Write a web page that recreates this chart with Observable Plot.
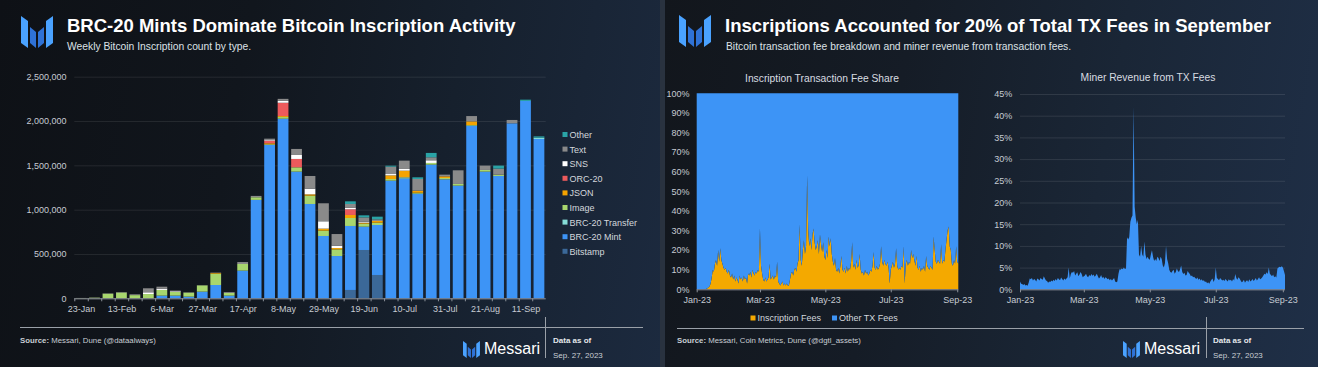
<!DOCTYPE html>
<html><head><meta charset="utf-8">
<script src="https://cdn.jsdelivr.net/npm/d3@7"></script>
<script src="https://cdn.jsdelivr.net/npm/@observablehq/plot@0.6"></script>
<style>
html,body{margin:0;padding:0;}
body{width:1318px;height:367px;position:relative;overflow:hidden;background:#29323f;font-family:"Liberation Sans",Arial,sans-serif;}
.panel{position:absolute;top:0;height:367px;}
#p1{left:0;width:660px;background:linear-gradient(100deg,#0e1116 0%,#11161d 35%,#16202d 65%,#1c2a3f 100%);}
#p2{left:665px;width:653px;background:linear-gradient(100deg,#12161c 0%,#151c26 35%,#1a2636 65%,#1f2f47 100%);}
.plot{position:absolute;}
#overlay{position:absolute;left:0;top:0;pointer-events:none;}
</style></head><body>
<div class="panel" id="p1"></div><div class="panel" id="p2"></div>
<div class="plot" id="c1" style="left:0px;top:60px"></div>
<div class="plot" id="c2" style="left:660px;top:65px"></div>
<div class="plot" id="c3" style="left:980px;top:65px"></div>
<svg id="overlay" width="1318" height="367"></svg>
<script>
// ---------- Chart 1 data: weekly inscriptions by type ----------
const weeks = ["23-Jan","30-Jan","6-Feb","13-Feb","20-Feb","27-Feb","6-Mar","13-Mar","20-Mar","27-Mar","3-Apr","10-Apr","17-Apr","24-Apr","1-May","8-May","15-May","22-May","29-May","5-Jun","12-Jun","19-Jun","26-Jun","3-Jul","10-Jul","17-Jul","24-Jul","31-Jul","7-Aug","14-Aug","21-Aug","28-Aug","4-Sep","11-Sep","18-Sep"];
const weekTickLabels = ["23-Jan","13-Feb","6-Mar","27-Mar","17-Apr","8-May","29-May","19-Jun","10-Jul","31-Jul","21-Aug","11-Sep"];
const countTicks = [0,500000,1000000,1500000,2000000,2500000];

const bitstamp =      [0,0,0,0,0,0,0,0,0,0,0,0,0,0,0,0,0,0,0,0,94000,545000,263000,0,0,0,0,0,0,0,0,0,0,0,0];
const brc20Mint =     [0,0,0,0,0,0,30000,30000,19000,75000,150000,30000,312000,1110000,1730000,2026000,1429000,1064000,703000,477000,722000,263000,564000,1327000,1350000,1180000,1508000,1342000,1271000,1947000,1429000,1380000,1974000,2226000,1797000];
const brc20Transfer = [0,0,0,0,0,0,0,0,0,0,0,0,0,0,0,0,0,0,0,0,0,0,0,0,15000,0,0,0,0,0,0,0,0,0,15000];
const image =         [3000,7000,52000,66000,36000,48000,64000,41000,45000,71000,128000,30000,75000,30000,8000,19000,49000,94000,60000,75000,90000,34000,26000,19000,0,11000,19000,15000,19000,8000,19000,15000,0,0,0];
const json =          [0,0,0,0,0,0,0,0,0,0,8000,0,0,0,11000,11000,0,15000,23000,15000,34000,11000,19000,41000,75000,23000,0,19000,0,41000,0,0,0,0,0];
const orc20 =         [0,0,0,0,0,0,0,0,0,0,0,0,0,0,30000,150000,94000,0,0,0,64000,0,0,0,0,0,0,0,0,0,0,0,0,0,0];
const sns =           [0,0,0,0,0,20000,15000,8000,0,0,0,2000,0,0,12000,22000,45000,64000,83000,26000,19000,11000,0,15000,19000,0,30000,0,0,0,0,0,0,0,0];
const text =          [1000,2000,4000,5000,9000,45000,22000,8000,4000,2000,4000,9000,22000,15000,10000,22000,68000,143000,203000,132000,41000,49000,19000,83000,94000,132000,34000,19000,154000,60000,49000,68000,38000,0,0];
const other =         [0,0,0,0,0,0,0,0,0,0,0,0,0,0,0,0,0,0,0,0,30000,23000,30000,11000,0,19000,49000,0,0,0,0,34000,0,15000,15000];

const seriesNames = ["Bitstamp","BRC-20 Mint","BRC-20 Transfer","Image","JSON","ORC-20","SNS","Text","Other"];
const seriesValues = [bitstamp,brc20Mint,brc20Transfer,image,json,orc20,sns,text,other];
const seriesColors = ["#3b6898","#3d94f6","#86dcd8","#a8d66e","#f5a300","#ec5a5c","#ffffff","#8a8a8a","#2aa3a6"];

// ---------- Chart 2/3 data: daily shares (%) starting 2023-01-01 ----------
const dailyStart = "2023-01-01";
const inscriptionFeeShare = [
0,0,0,0,0,0,0, 0,0,0.3,0.5,1,1.5,3, 6,10,9,13,15,12,20, 14,21,15,13,11,10,11,
9,8,10,7,6,8,5, 7,4,6,5,3,7,5, 6,4,7,5,6,3,8, 7,9,6,10,8,7,9,
8,10,9,31,12,8,5, 4,6,4,5,6,13,5, 6,7,5,7,6,14,4, 3,2,3,4,2,3,2,
3,2,2,5,8,9,7, 10,11,9,13,15,33,15, 12,20,25,18,22,58,30, 22,26,20,28,31,24,20,
22,25,18,28,23,19,24, 17,15,20,16,27,22,26, 18,14,12,16,10,9,11, 8,12,17,10,9,11,8,
12,9,11,10,14,24,11, 13,10,15,11,12,18,10, 8,9,7,10,8,9,7, 8,10,9,12,19,11,10,
12,10,11,13,22,14,12, 15,13,12,14,11,3,10, 12,14,11,13,21,12,10, 11,10,12,11,22,3,13,
15,12,14,13,20,16,18, 15,12,17,11,10,12,9, 11,10,12,9,17,12,11, 10,12,11,10,27,20,14,
13,15,14,13,23,13,15, 14,20,25,30,32,22,20, 13,12,15,13,22,14,13];
const minerRevenueShare = [
1.8,1.3,1.2,1.0,1.2,0.9,1.0, 0.8,1.5,2.5,2.3,2.6,2.0,2.4, 2.2,1.8,2.5,2.3,2.0,2.6,2.4, 2.2,3.0,2.5,2.0,1.9,1.5,1.8,
1.7,2.0,1.8,2.2,1.9,2.4,2.0, 2.6,2.3,2.1,2.7,2.4,2.0,2.5, 2.2,2.5,2.8,5.0,2.5,3.5,4.0, 3.8,4.2,3.2,3.6,3.9,3.0,3.4,
4.0,3.5,2.8,3.0,3.2,3.6,3.0, 2.8,3.3,3.0,3.5,3.1,3.4,2.9, 3.2,3.6,3.0,2.5,2.8,3.3,2.6, 2.9,2.4,2.8,2.6,2.3,2.5,2.1,
2.4,2.0,2.3,2.6,1.8,1.6,1.8, 3.5,4.6,4.5,4.8,4.6,5.0,4.7, 4.8,12.0,11.5,12.0,15.5,16.5,17.0, 42,19,16.5,15,16,8,7.5,
10,8,7.5,11,8,7,7.5, 7,6.8,8,9,7.5,6.5,7, 6.5,7.5,7.2,6.5,7.5,7.0,5.5, 5.0,6.0,10.0,7.0,6.0,4.5,4.0,
3.8,4.2,4.5,3.6,4.0,4.8,4.2, 4.0,4.6,5.5,4.0,3.5,3.8,3.2, 3.3,4.2,3.8,3.5,3.0,3.2,2.8, 2.9,2.6,2.4,2.7,2.2,2.5,2.0,
2.3,1.9,2.1,1.7,1.8,1.4,1.6, 1.3,1.8,2.2,2.5,1.7,2.3,5.0, 2.6,2.4,2.1,2.6,2.3,2.0,2.2, 1.9,2.4,2.1,1.8,2.3,2.0,2.2,
1.8,2.4,2.0,3.5,2.6,2.2,2.8, 2.5,2.0,1.6,1.8,2.2,1.5,1.9, 2.1,1.7,2.3,1.8,2.0,2.4,1.9, 2.2,2.6,2.0,2.4,2.8,2.3,2.5,
2.8,3.2,3.6,3.4,3.9,3.5,5.0, 3.6,3.3,3.0,3.4,2.8,3.0,2.7, 4.8,5.0,5.2,5.1,5.3,5.0,4.2, 3.3];
const monthTicks = ["2023-01-01","2023-03-01","2023-05-01","2023-07-01","2023-09-01"];
const feeShareTicks = [0,10,20,30,40,50,60,70,80,90,100];
const minerTicks = [0,5,10,15,20,25,30,35,40,45];
const feeTypes = ["Inscription Fees","Other TX Fees"];
const feeColors = ["#f4a900","#3d94f6"];

// ---------- styles ----------
const FONT = "Liberation Sans, Arial, sans-serif";
const axisColor = "#c6cbd2";
const baseStyle = {background:"transparent",color:axisColor,fontFamily:FONT,fontSize:"9px",overflow:"visible"};

// ---------- Chart 1 ----------
const rows1 = [];
seriesNames.forEach((s,k)=>weeks.forEach((w,i)=>rows1.push({week:w,type:s,value:seriesValues[k][i]})));
const W1=560,H1=260,mL1=74.3,mR1=14.3;
const step1=(W1-mL1-mR1)/weeks.length;
const chart1 = Plot.plot({
  width:W1,height:H1,marginLeft:mL1,marginRight:mR1,marginTop:16.7,marginBottom:21.7,
  style:baseStyle,
  x:{type:"band",domain:weeks,paddingInner:0.2,paddingOuter:0.1,label:null,round:false},
  y:{domain:[0,2500000],label:null},
  color:{domain:seriesNames,range:seriesColors},
  marks:[
    Plot.gridY(countTicks,{stroke:"#ffffff",strokeOpacity:0.09}),
    Plot.barY(rows1,{x:"week",y:"value",fill:"type",order:seriesNames}),
    Plot.ruleY([0],{stroke:"#8c9199"}),
    Plot.axisX(weeks,{tickSize:3,tickFormat:()=>"",dx:-step1/2,stroke:"#8c9199"}),
    Plot.axisX(weekTickLabels,{tickSize:0,tickPadding:7}),
    Plot.axisY(countTicks,{tickSize:0,tickPadding:8.3,tickFormat:d3.format(",")})
  ]
});
document.getElementById("c1").append(chart1);

// ---------- Chart 2 ----------
const start = d3.utcParse("%Y-%m-%d")(dailyStart);
const mTicks = monthTicks.map(d3.utcParse("%Y-%m-%d"));
const rows2 = [];
inscriptionFeeShare.forEach((v,i)=>{
  const date=d3.utcDay.offset(start,i);
  rows2.push({date,type:feeTypes[0],value:v},{date,type:feeTypes[1],value:100-v});
});
const chart2 = Plot.plot({
  width:310,height:250,marginLeft:36.7,marginRight:11.7,marginTop:28.3,marginBottom:25.7,
  style:baseStyle,
  x:{type:"utc",domain:[start,d3.utcDay.offset(start,inscriptionFeeShare.length-1)],label:null},
  y:{domain:[0,100],label:null},
  color:{domain:feeTypes,range:feeColors},
  marks:[
    Plot.areaY(rows2,{x:"date",y:"value",fill:"type",order:feeTypes}),
    Plot.ruleY([0],{stroke:"#8c9199"}),
    Plot.axisX(mTicks,{tickSize:3,tickPadding:4,tickFormat:d3.utcFormat("%b-%y"),stroke:"#8c9199"}),
    Plot.axisY(feeShareTicks,{tickSize:0,tickPadding:7.7,tickFormat:d=>d+"%"})
  ]
});
document.getElementById("c2").append(chart2);

// ---------- Chart 3 ----------
const rows3 = minerRevenueShare.map((v,i)=>({date:d3.utcDay.offset(start,i),value:v}));
const chart3 = Plot.plot({
  width:330,height:250,marginLeft:40,marginRight:25,marginTop:29,marginBottom:25.7,
  style:baseStyle,
  x:{type:"utc",domain:[start,d3.utcDay.offset(start,minerRevenueShare.length-1)],label:null},
  y:{domain:[0,45],label:null},
  marks:[
    Plot.gridY(minerTicks,{stroke:"#ffffff",strokeOpacity:0.1}),
    Plot.areaY(rows3,{x:"date",y:"value",fill:"#3d94f6"}),
    Plot.ruleY([0],{stroke:"#8c9199"}),
    Plot.axisX(mTicks,{tickSize:3,tickPadding:4,tickFormat:d3.utcFormat("%b-%y"),stroke:"#8c9199"}),
    Plot.axisY(minerTicks,{tickSize:0,tickPadding:8.3,tickFormat:d=>d+"%"})
  ]
});
document.getElementById("c3").append(chart3);

// ---------- Overlay: titles, legends, footers ----------
function logo(x,y,s){
  return `<g transform="translate(${x},${y}) scale(${s})">
  <polygon points="0,0 7,5 7,32 0,27" fill="#4aa2ff"/>
  <polygon points="9,11 15,16 15,32 9,27" fill="#2f72d6"/>
  <polygon points="17,16 23,11 23,27 17,32" fill="#2f72d6"/>
  <polygon points="25,5 32,0 32,27 25,32" fill="#4aa2ff"/></g>`;
}
let o = `<g font-family="${FONT}">`;
// headers
o += logo(21,16,1);
o += `<text x="67" y="32" font-size="18.5" font-weight="700" fill="#ffffff">BRC-20 Mints Dominate Bitcoin Inscription Activity</text>`;
o += `<text x="67" y="49.5" font-size="10.3" fill="#dde1e6">Weekly Bitcoin Inscription count by type.</text>`;
o += logo(679,15,1);
o += `<text x="725" y="32" font-size="18.5" font-weight="700" fill="#ffffff">Inscriptions Accounted for 20% of Total TX Fees in September</text>`;
o += `<text x="726" y="49.5" font-size="10.3" fill="#dde1e6">Bitcoin transaction fee breakdown and miner revenue from transaction fees.</text>`;
// chart titles
o += `<text x="822" y="82" text-anchor="middle" font-size="10.3" fill="#d8dce1">Inscription Transaction Fee Share</text>`;
o += `<text x="1148" y="81" text-anchor="middle" font-size="10.3" fill="#d8dce1">Miner Revenue from TX Fees</text>`;
// chart 1 legend (top to bottom: reverse of stack order)
seriesNames.slice().reverse().forEach((s,i)=>{
  const c = seriesColors[seriesNames.indexOf(s)];
  const yb = 138 + i*14.6;
  o += `<rect x="562.5" y="${yb-6}" width="5" height="5" fill="${c}"/>`;
  o += `<text x="569.5" y="${yb}" font-size="9" fill="#d3d7dc">${s}</text>`;
});
// chart 2 legend
o += `<rect x="750.5" y="315.5" width="5" height="5" fill="${feeColors[0]}"/><text x="757.5" y="320.5" font-size="9" fill="#d3d7dc">${feeTypes[0]}</text>`;
o += `<rect x="832" y="315.5" width="5" height="5" fill="${feeColors[1]}"/><text x="839" y="320.5" font-size="9" fill="#d3d7dc">${feeTypes[1]}</text>`;
// footers
function footer(x0,x1,ly,vx,srcX,src,logoX,dataX){
  let f = `<line x1="${x0}" x2="${x1}" y1="${ly}" y2="${ly}" stroke="#9aa0a8" stroke-width="1"/>`;
  f += `<line x1="${vx}" x2="${vx}" y1="317" y2="358" stroke="#9aa0a8" stroke-width="1"/>`;
  f += `<text x="${srcX}" y="342.5" font-size="7.8" fill="#c9ced4"><tspan font-weight="700">Source:</tspan> ${src}</text>`;
  f += logo(logoX,341,0.53);
  f += `<text x="${logoX+21}" y="353.5" font-size="16" fill="#ffffff">Messari</text>`;
  f += `<text x="${dataX}" y="343" font-size="8" font-weight="700" fill="#e4e7eb">Data as of</text>`;
  f += `<text x="${dataX}" y="357.5" font-size="8" fill="#c9ced4">Sep. 27, 2023</text>`;
  return f;
}
o += footer(20,643,327.5,545.5,20,"Messari, Dune (@dataalways)",463,553);
o += footer(677,1304,328.5,1206.5,677,"Messari, Coin Metrics, Dune (@dgtl_assets)",1123,1213);
o += `</g>`;
document.getElementById("overlay").innerHTML = o;
</script>
</body></html>
